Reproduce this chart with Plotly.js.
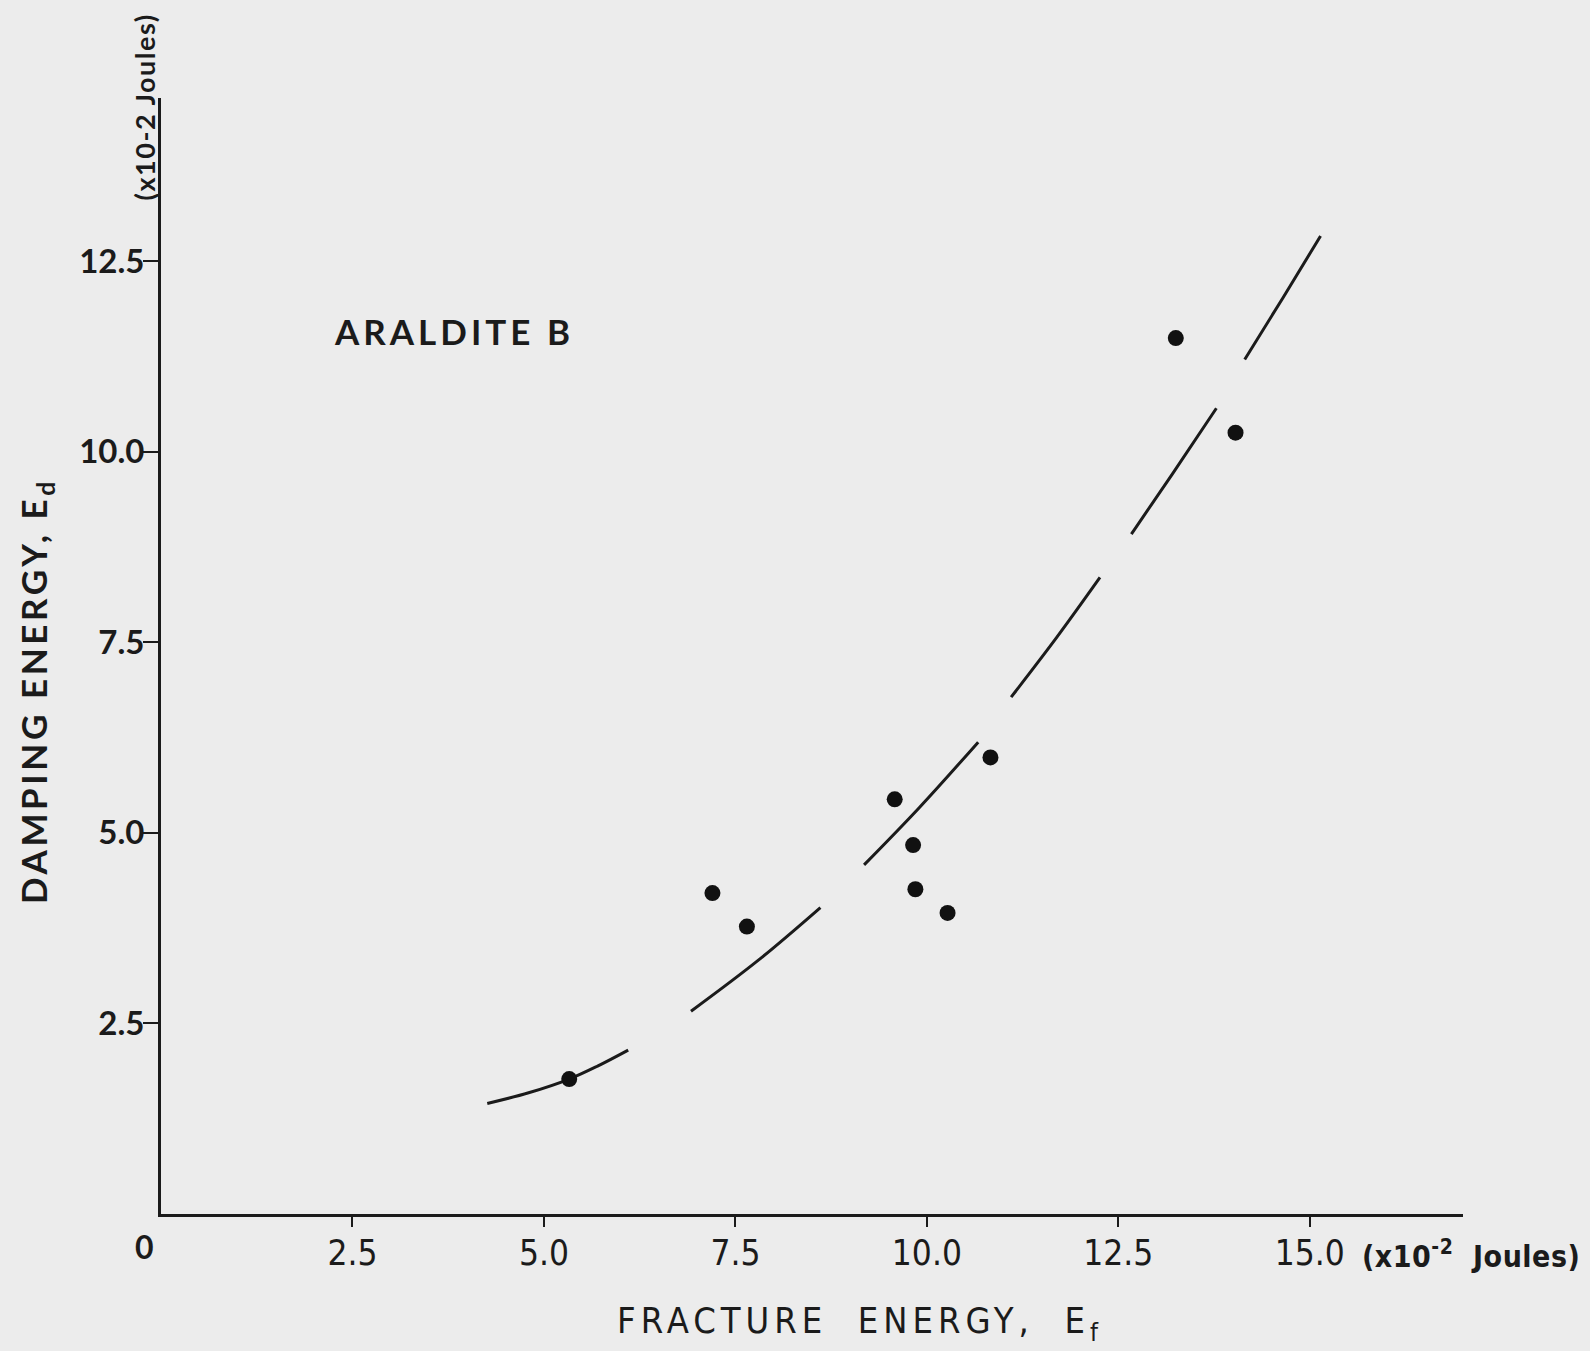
<!DOCTYPE html>
<html>
<head>
<meta charset="utf-8">
<script src="https://cdn.plot.ly/plotly-3.0.1.min.js"></script>
<style>
  html, body { margin: 0; padding: 0; background: #ececec; }
  #chart { width: 1590px; height: 1351px; }
  /* wide spacing for the hand-lettered captions */
  g.annotation[data-index="0"] text { letter-spacing: 4px; }
  g.annotation[data-index="1"] text { letter-spacing: 3.6px; }
  g.annotation[data-index="2"] text { letter-spacing: 1.5px; }
  g.annotation[data-index="3"] text { letter-spacing: 5px; font-stretch: condensed; }
  g.annotation[data-index="4"] text { font-stretch: condensed; letter-spacing: 0.5px; }
  /* condensed lettering along the horizontal axis */
  .xtick text { font-stretch: condensed; }
</style>
</head>
<body>
<div id="chart"></div>
<script>
// Measured specimens: fracture energy vs damping energy (x10^-2 J)
const fractureEnergy = [5.33, 7.20, 7.65, 9.58, 9.82, 9.85, 10.27, 10.83, 13.25, 14.03];
const dampingEnergy  = [1.77, 4.21, 3.77, 5.44, 4.84, 4.26, 3.95, 5.99, 11.49, 10.25];

// Hand-drawn trend curve, drawn as broken strokes (null separates strokes)
const curveX = [4.26, 4.80, 5.33, 5.70, 6.10, null,
                6.92, 7.80, 8.61, null,
                9.18, 9.90, 10.67, null,
                11.10, 11.70, 12.26, null,
                12.67, 13.20, 13.78, null,
                14.15, 14.65, 15.14];
const curveY = [1.45, 1.59, 1.77, 1.94, 2.15, null,
                2.66, 3.33, 4.02, null,
                4.58, 5.33, 6.19, null,
                6.78, 7.57, 8.35, null,
                8.92, 9.70, 10.57, null,
                11.21, 12.02, 12.83];

const xTickVals = [2.5, 5.0, 7.5, 10.0, 12.5, 15.0];
const xTickText = ['2.5', '5.0', '7.5', '10.0', '12.5', '15.0'];
const yTickVals = [2.5, 5.0, 7.5, 10.0, 12.5];
const yTickText = ['2.5', '5.0', '7.5', '10.0', '12.5'];

const ink = '#1b1b1b';
const condensed = '"DejaVu Sans", sans-serif';
const round = 'Lato, "DejaVu Sans", sans-serif';

const traces = [
  {
    x: curveX, y: curveY,
    type: 'scatter', mode: 'lines',
    connectgaps: false,
    line: { color: ink, width: 3, shape: 'spline', smoothing: 1 },
    hoverinfo: 'skip'
  },
  {
    x: fractureEnergy, y: dampingEnergy,
    type: 'scatter', mode: 'markers',
    marker: { color: '#111', size: 16 }
  }
];

const layout = {
  width: 1590, height: 1351,
  paper_bgcolor: '#ececec', plot_bgcolor: '#ececec',
  showlegend: false,
  margin: { l: 161, r: 127, t: 98, b: 137 },
  xaxis: {
    range: [0, 17.0],
    showgrid: false, zeroline: false,
    showline: true, linecolor: ink, linewidth: 3,
    ticks: 'outside', ticklen: 10, tickwidth: 2, tickcolor: ink,
    tickvals: xTickVals, ticktext: xTickText,
    tickfont: { family: condensed, size: 35, color: ink },
    ticklabelstandoff: -4
  },
  yaxis: {
    range: [0, 14.64],
    showgrid: false, zeroline: false,
    showline: true, linecolor: ink, linewidth: 3,
    ticks: 'outside', ticklen: 15, tickwidth: 2, tickcolor: ink,
    tickvals: yTickVals, ticktext: yTickText,
    tickfont: { family: round, size: 33, color: ink, weight: 700 },
    ticklabelstandoff: -8
  },
  annotations: [
    { // 0
      text: 'ARALDITE B', xref: 'x', yref: 'y', x: 2.49, y: 11.58,
      xanchor: 'left', yanchor: 'middle', showarrow: false,
      font: { family: round, size: 35, color: ink, weight: 700 }
    },
    { // 1
      text: 'DAMPING ENERGY, E<sub>d</sub>', xref: 'paper', yref: 'paper',
      x: -0.0964, y: 0.4686, textangle: -90,
      xanchor: 'center', yanchor: 'middle', showarrow: false,
      font: { family: round, size: 35, color: ink, weight: 700 }
    },
    { // 2
      text: '(x10-2 Joules)', xref: 'paper', yref: 'paper',
      x: -0.0123, y: 0.992, textangle: -90,
      xanchor: 'center', yanchor: 'middle', showarrow: false,
      font: { family: round, size: 27, color: ink, weight: 700 }
    },
    { // 3
      text: 'FRACTURE  ENERGY,  E<sub>f</sub>', xref: 'paper', yref: 'paper',
      x: 0.537, y: -0.098,
      xanchor: 'center', yanchor: 'middle', showarrow: false,
      font: { family: condensed, size: 36, color: ink }
    },
    { // 4
      text: '(x10<sup>-2</sup>  Joules)', xref: 'paper', yref: 'paper',
      x: 0.915, y: -0.036,
      xanchor: 'left', yanchor: 'middle', showarrow: false,
      font: { family: condensed, size: 30, color: ink, weight: 700 }
    },
    { // 5
      text: '0', xref: 'paper', yref: 'paper',
      x: -0.0123, y: -0.029,
      xanchor: 'center', yanchor: 'middle', showarrow: false,
      font: { family: round, size: 32, color: ink, weight: 700 }
    }
  ]
};

Plotly.newPlot('chart', traces, layout, { displayModeBar: false, staticPlot: true });
</script>
</body>
</html>
